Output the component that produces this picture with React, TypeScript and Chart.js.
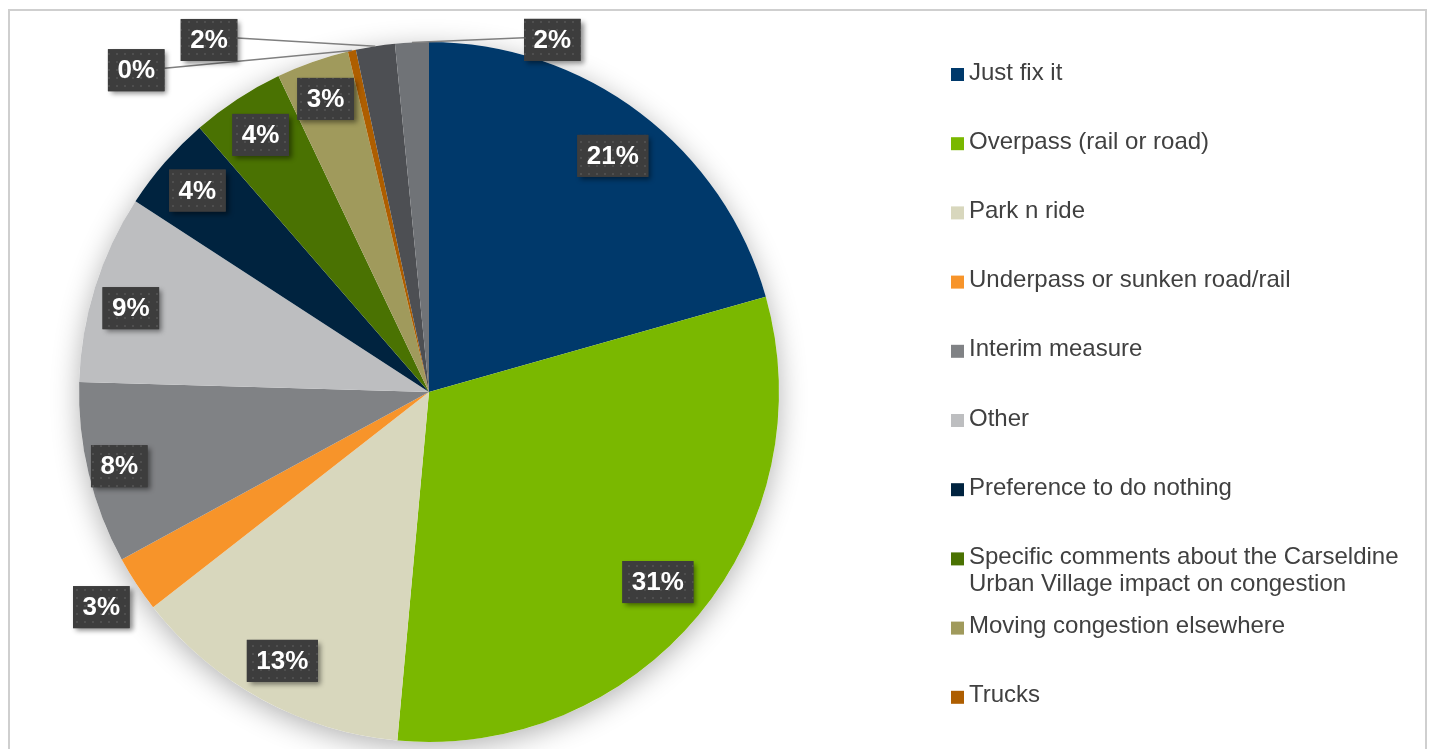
import React, { useEffect, useRef } from "react";
import { Chart, registerables } from "chart.js";

Chart.register(...registerables);

const categories = [
  "Just fix it",
  "Overpass (rail or road)",
  "Park n ride",
  "Underpass or sunken road/rail",
  "Interim measure",
  "Other",
  "Preference to do nothing",
  "Specific comments about the Carseldine Urban Village impact on congestion",
  "Moving congestion elsewhere",
  "Trucks",
  "Category 11",
  "Category 12",
];

const shares = [20.6, 30.8, 13.0, 2.6, 8.4, 8.7, 4.45, 4.3, 3.35, 0.37, 1.8, 1.55];

const colors = [
  "#00396B",
  "#7AB800",
  "#D8D7BD",
  "#F7942A",
  "#808285",
  "#BDBEC0",
  "#00233F",
  "#4A7202",
  "#A09A5C",
  "#AE5E00",
  "#4D4F53",
  "#707377",
];

// label placement: radius factor and optional fixed angle (deg clockwise from 12 o'clock)
const labelRadius = [0.855, 0.85, 0.875, 1.12, 0.91, 0.885, 0.877, 0.878, 0.888, 1.243, 1.186, 1.066];
const labelAngle: (number | null)[] = [37.9, null, null, null, null, 285.7, null, null, null, 317.7, 328, 19.3];
const leaderLine = [false, false, false, false, false, false, false, false, false, true, true, true];

const CANVAS_W = 1415;
const CANVAS_H = 756;
const CX = 419;
const CY = 381;
const R = 350;

const FONT = "'Liberation Sans', Arial, Helvetica, sans-serif";

function makePattern(ctx: CanvasRenderingContext2D) {
  const c = document.createElement("canvas");
  c.width = 8;
  c.height = 8;
  const p = c.getContext("2d")!;
  p.fillStyle = "#3d3d3d";
  p.fillRect(0, 0, 8, 8);
  p.fillStyle = "#4f4f4f";
  p.fillRect(2, 2, 2, 2);
  return ctx.createPattern(c, "repeat");
}

function drawBox(ctx: CanvasRenderingContext2D, cx: number, cy: number, text: string, pattern: any) {
  ctx.font = `bold 26px ${FONT}`;
  const tw = ctx.measureText(text).width;
  const w = tw + 19;
  const h = 42;
  ctx.save();
  ctx.shadowColor = "rgba(0,0,0,0.45)";
  ctx.shadowBlur = 5;
  ctx.shadowOffsetX = 3;
  ctx.shadowOffsetY = 3;
  ctx.fillStyle = "#3d3d3d";
  ctx.fillRect(cx - w / 2, cy - h / 2, w, h);
  ctx.restore();
  ctx.fillStyle = pattern || "#3d3d3d";
  ctx.fillRect(cx - w / 2, cy - h / 2, w, h);
  ctx.fillStyle = "#ffffff";
  ctx.textAlign = "center";
  ctx.textBaseline = "middle";
  ctx.fillText(text, cx, cy + 1);
  return w;
}

const pieShadow = {
  id: "pieShadow",
  beforeDatasetsDraw(chart: any) {
    const meta = chart.getDatasetMeta(0);
    const arc = meta.data[0];
    if (!arc) return;
    const ctx = chart.ctx;
    ctx.save();
    ctx.shadowColor = "rgba(0,0,0,0.3)";
    ctx.shadowBlur = 28;
    ctx.shadowOffsetY = 6;
    ctx.fillStyle = "#ffffff";
    ctx.beginPath();
    ctx.arc(arc.x, arc.y, arc.outerRadius, 0, Math.PI * 2);
    ctx.fill();
    ctx.restore();
  },
};

const dataLabels = {
  id: "dataLabels",
  afterDatasetsDraw(chart: any) {
    const ctx: CanvasRenderingContext2D = chart.ctx;
    const meta = chart.getDatasetMeta(0);
    const values: number[] = chart.data.datasets[0].data;
    const total = values.reduce((a, b) => a + b, 0);
    const pattern = makePattern(ctx);
    meta.data.forEach((arc: any, i: number) => {
      const mid = (arc.startAngle + arc.endAngle) / 2;
      const ang = labelAngle[i] !== null ? ((labelAngle[i] as number) - 90) * Math.PI / 180 : mid;
      const r = arc.outerRadius * labelRadius[i];
      const lx = arc.x + r * Math.cos(ang);
      const ly = arc.y + r * Math.sin(ang);
      const text = Math.round((values[i] / total) * 100) + "%";
      ctx.font = `bold 26px ${FONT}`;
      const w = ctx.measureText(text).width + 19;
      if (leaderLine[i]) {
        const ex = arc.x + arc.outerRadius * Math.cos(mid);
        const ey = arc.y + arc.outerRadius * Math.sin(mid);
        const sx = lx < ex ? lx + w / 2 : lx - w / 2;
        ctx.save();
        ctx.strokeStyle = "#7f7f7f";
        ctx.lineWidth = 1.5;
        ctx.beginPath();
        ctx.moveTo(sx, ly - 2);
        ctx.lineTo(ex, ey);
        ctx.stroke();
        ctx.restore();
      }
      drawBox(ctx, lx, ly, text, pattern);
    });
  },
};

const sideLegend = {
  id: "sideLegend",
  afterDraw(chart: any) {
    const ctx: CanvasRenderingContext2D = chart.ctx;
    const labels: string[] = chart.data.labels;
    const bg: string[] = chart.data.datasets[0].backgroundColor;
    const x0 = 941;
    const textX = 959;
    const top = 62;
    const step = 69.2;
    const maxW = 450;
    ctx.save();
    ctx.font = `24px ${FONT}`;
    ctx.textAlign = "left";
    ctx.textBaseline = "middle";
    labels.forEach((lab, i) => {
      const y = top + i * step;
      if (y > chart.height - 10) return;
      ctx.fillStyle = bg[i];
      ctx.fillRect(x0, y + 1.5 - 6.5, 13, 13);
      const words = lab.split(" ");
      const lines: string[] = [];
      let cur = "";
      words.forEach((wd) => {
        const t = cur ? cur + " " + wd : wd;
        if (ctx.measureText(t).width > maxW && cur) {
          lines.push(cur);
          cur = wd;
        } else cur = t;
      });
      if (cur) lines.push(cur);
      ctx.fillStyle = "#404040";
      lines.forEach((ln, k) => ctx.fillText(ln, textX, y + k * 27));
    });
    ctx.restore();
  },
};

export default function App() {
  const ref = useRef<HTMLCanvasElement>(null);
  useEffect(() => {
    if (!ref.current) return;
    const chart = new Chart(ref.current, {
      type: "pie",
      data: {
        labels: categories,
        datasets: [
          {
            data: shares,
            backgroundColor: colors,
            borderWidth: 0,
          },
        ],
      },
      options: {
        animation: false,
        responsive: false,
        devicePixelRatio: 1,
        layout: {
          padding: {
            left: CX - R,
            top: CY - R,
            right: CANVAS_W - (CX + R),
            bottom: CANVAS_H - (CY + R),
          },
        },
        plugins: {
          legend: { display: false },
          tooltip: { enabled: false },
        },
      },
      plugins: [pieShadow, dataLabels, sideLegend],
    });
    return () => chart.destroy();
  }, []);

  return (
    <div
      style={{
        position: "fixed",
        left: 0,
        top: 0,
        width: 1429,
        height: 749,
        overflow: "hidden",
        background: "#ffffff",
      }}
    >
      <div
        style={{
          position: "absolute",
          left: 8,
          top: 9,
          width: 1419,
          height: 760,
          border: "2px solid #cfcfcf",
          boxSizing: "border-box",
          background: "#ffffff",
        }}
      >
        <canvas
          ref={ref}
          width={CANVAS_W}
          height={CANVAS_H}
          style={{ display: "block", width: CANVAS_W, height: CANVAS_H }}
        />
      </div>
    </div>
  );
}
